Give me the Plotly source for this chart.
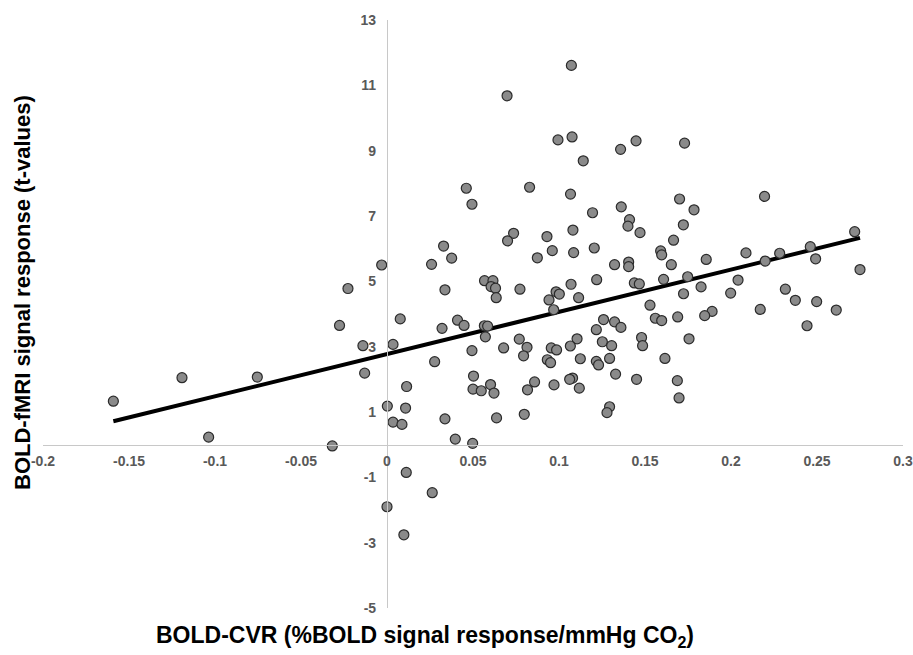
import numpy as np
import plotly.graph_objects as go

# BOLD-CVR (x) and BOLD-fMRI t-values (y)
cvr = [
    -0.1591, -0.1192, -0.1037, -0.0754, -0.0318, -0.0276, -0.0227, -0.0140, -0.0130, -0.0031,
    0.0002, 0.0035, 0.0035, 0.0077, 0.0087, 0.0108, 0.0114, 0.0112, 0.0263, 0.0000,
    0.0098, 0.0259, 0.0277, 0.0320, 0.0329, 0.0337, 0.0337, 0.0376, 0.0397, 0.0410,
    0.0448, 0.0461, 0.0494, 0.0494, 0.0503, 0.0500, 0.0498,
    0.2719, 0.0736, 0.0701, 0.1471, 0.0930, 0.1081, 0.1666, 0.2461, 0.1205, 0.0961,
    0.1085, 0.1591, 0.1597, 0.2087, 0.2283, 0.2492, 0.0874, 0.1856, 0.2199, 0.1405,
    0.1405, 0.1323, 0.1653, 0.2750, 0.0567, 0.0616, 0.0605, 0.0631, 0.0635, 0.0773,
    0.1219, 0.1070, 0.1438, 0.1467, 0.1608, 0.1748, 0.2041, 0.1826, 0.2316, 0.0983,
    0.1002, 0.1724, 0.1998, 0.0942, 0.1114, 0.2374, 0.2498, 0.0969, 0.1529, 0.2170,
    0.2612, 0.1890, 0.1847, 0.1690, 0.1560, 0.1597, 0.1259, 0.1323, 0.1360, 0.0566,
    0.0585, 0.0572, 0.2442, 0.1217, 0.0769, 0.1105, 0.1480, 0.1756, 0.1252, 0.1306,
    0.1486, 0.1066, 0.0814, 0.0678, 0.0955, 0.0986, 0.0794, 0.1124, 0.1294, 0.1616,
    0.0932, 0.0951, 0.1217, 0.1230, 0.1329, 0.1079, 0.1062, 0.1451, 0.0858, 0.1688,
    0.0602, 0.0971, 0.0548, 0.0622, 0.0817, 0.1118, 0.1698, 0.1294, 0.1279, 0.0798,
    0.0637,
    0.1072, 0.0698, 0.0994, 0.1076, 0.1448, 0.1730, 0.1358, 0.1141, 0.0829, 0.1067,
    0.1701, 0.1785, 0.2195, 0.1362, 0.1195, 0.1410, 0.1401, 0.1723,
]
tvals = [
    1.33, 2.05, 0.23, 2.07, -0.04, 3.65, 4.78, 3.03, 2.19, 5.50,
    1.18, 3.07, 0.69, 3.85, 0.62, 1.12, 1.78, -0.85, -1.47, -1.90,
    -2.76, 5.52, 2.54, 3.56, 6.08, 4.74, 0.79, 5.71, 0.17, 3.81,
    3.65, 7.85, 7.36, 2.88, 2.10, 1.70, 0.04,
    6.52, 6.47, 6.24, 6.49, 6.37, 6.57, 6.26, 6.06, 6.02, 5.94,
    5.88, 5.93, 5.81, 5.87, 5.86, 5.69, 5.72, 5.67, 5.62, 5.59,
    5.45, 5.51, 5.51, 5.36, 5.02, 5.02, 4.84, 4.79, 4.50, 4.76,
    5.05, 4.91, 4.95, 4.92, 5.06, 5.14, 5.04, 4.83, 4.76, 4.68,
    4.61, 4.62, 4.64, 4.43, 4.50, 4.42, 4.38, 4.13, 4.27, 4.14,
    4.12, 4.08, 3.95, 3.91, 3.87, 3.80, 3.83, 3.76, 3.59, 3.64,
    3.63, 3.30, 3.64, 3.52, 3.23, 3.24, 3.28, 3.24, 3.15, 3.03,
    3.03, 3.02, 2.98, 2.96, 2.96, 2.90, 2.72, 2.63, 2.64, 2.64,
    2.60, 2.51, 2.55, 2.44, 2.16, 2.04, 2.00, 2.00, 1.92, 1.96,
    1.84, 1.83, 1.65, 1.58, 1.68, 1.73, 1.43, 1.16, 0.98, 0.93,
    0.82,
    11.61, 10.68, 9.33, 9.42, 9.30, 9.23, 9.04, 8.69, 7.88, 7.67,
    7.52, 7.19, 7.60, 7.28, 7.10, 6.89, 6.69, 6.73,
]

x_tickvals = [-0.2, -0.15, -0.1, -0.05, 0, 0.05, 0.1, 0.15, 0.2, 0.25, 0.3]
x_ticktext = ["-0.2", "-0.15", "-0.1", "-0.05", "0", "0.05", "0.1", "0.15", "0.2", "0.25", "0.3"]
y_tickvals = [-5, -3, -1, 1, 3, 5, 7, 9, 11, 13]
y_ticktext = ["-5", "-3", "-1", "1", "3", "5", "7", "9", "11", "13"]

x_title = "BOLD-CVR (%BOLD signal response/mmHg CO<sub>2</sub>)"
y_title = "BOLD-fMRI signal response (t-values)"

X_RANGE = [-0.2, 0.3]
Y_RANGE = [-5, 13]

xa = np.array(cvr)
ya = np.array(tvals)
slope, intercept = np.polyfit(xa, ya, 1)
fit_x = np.array([xa.min(), xa.max()])
fit_y = intercept + slope * fit_x

fig = go.Figure()
fig.add_trace(go.Scatter(
    x=fit_x, y=fit_y, mode="lines",
    line=dict(color="black", width=4),
    hoverinfo="skip", showlegend=False,
))
fig.add_trace(go.Scatter(
    x=cvr, y=tvals, mode="markers",
    marker=dict(size=10, color="#8a8a8a", line=dict(color="#2b2b2b", width=1.2)),
    showlegend=False,
))

FONT = "Liberation Sans, Arial, sans-serif"
tickfont = dict(family=FONT, size=14, color="#595959")
fig.update_layout(
    width=913, height=655, autosize=False,
    margin=dict(l=43, r=10, t=20, b=47, autoexpand=False),
    plot_bgcolor="white", paper_bgcolor="white",
    xaxis=dict(
        range=X_RANGE, domain=[0, 1], anchor="free", automargin=False,
        position=(0 - Y_RANGE[0]) / (Y_RANGE[1] - Y_RANGE[0]),
        tickvals=x_tickvals, ticktext=["<b>" + t + "</b>" for t in x_ticktext],
        showgrid=False, zeroline=False,
        showline=True, linecolor="#c8c8c8", linewidth=1.2,
        ticks="", tickfont=tickfont, ticklabelstandoff=3,
        ticklabeloverflow="allow",
    ),
    yaxis=dict(
        range=Y_RANGE, domain=[0, 1], anchor="free", automargin=False,
        position=(0 - X_RANGE[0]) / (X_RANGE[1] - X_RANGE[0]),
        tickvals=y_tickvals, ticktext=["<b>" + t + "</b>" for t in y_ticktext],
        showgrid=False, zeroline=False,
        showline=True, linecolor="#c8c8c8", linewidth=1.2,
        ticks="", tickfont=tickfont, ticklabelstandoff=8,
        ticklabeloverflow="allow",
    ),
    annotations=[
        dict(text="<b>" + x_title + "</b>", xref="paper", yref="paper",
             x=(425 - 43) / 860, y=-(637 - 608) / 588, xanchor="center", yanchor="middle",
             showarrow=False,
             font=dict(family=FONT, size=23, color="black")),
        dict(text="<b>" + y_title + "</b>", xref="paper", yref="paper",
             x=-(43 - 22) / 860, y=(608 - 293) / 588, xanchor="center", yanchor="middle",
             textangle=-90, showarrow=False,
             font=dict(family=FONT, size=22, color="black")),
    ],
)

fig.write_html(
    "out.html",
    config={"displayModeBar": False},
    post_script="document.body.style.margin='0';document.body.style.overflow='hidden';",
)
